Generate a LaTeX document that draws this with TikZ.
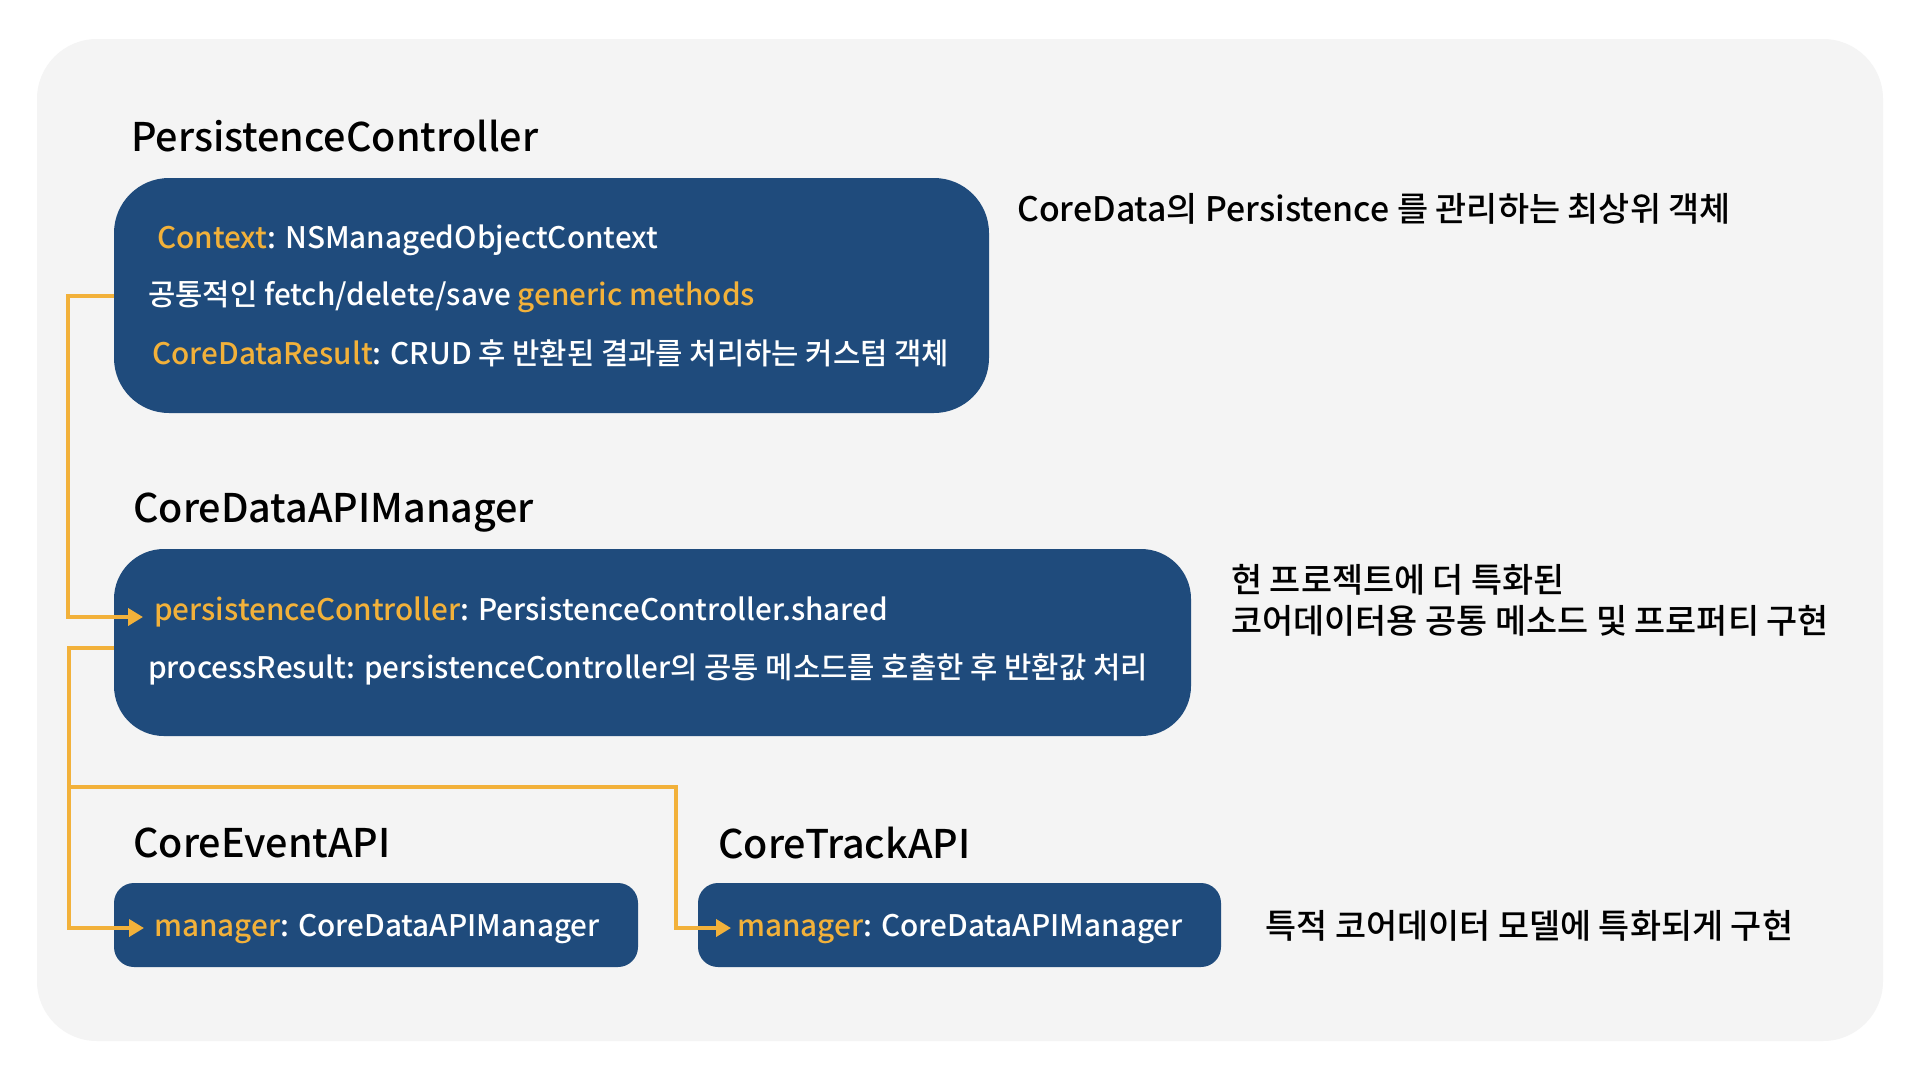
\documentclass[tikz,border=0pt]{standalone}
\usepackage{fontspec}
\setmainfont{Noto Sans CJK KR}[UprightFont={* Medium}]
\usetikzlibrary{arrows.meta}
\definecolor{bgc}{HTML}{F4F4F4}
\definecolor{boxc}{HTML}{1F4B7C}
\definecolor{orc}{HTML}{F2B13A}
\begin{document}
\begin{tikzpicture}[x=1pt,y=-1pt,
  panel/.style={fill=boxc, draw=none, rounded corners=#1, inner sep=0pt},
  title/.style={anchor=west, font=\fontsize{39.5}{44}\selectfont, text=black, inner sep=0pt},
  boxtext/.style={anchor=west, font=\fontsize{29.7}{34}\selectfont, text=white, inner sep=0pt},
  note/.style={anchor=west, font=\fontsize{33.8}{41}\selectfont, text=black, inner sep=0pt, align=left},
  conn/.style={draw=orc, line width=4pt, line join=miter},
  arr/.style={conn, -{Triangle[length=15pt,width=17pt]}}
]
\useasboundingbox (0,0) rectangle (1920,1080);
\fill[white] (0,0) rectangle (1920,1080);
\fill[bgc, rounded corners=60pt] (37,39) rectangle (1883,1041);

% Titles
\node[title] (t1) at (131,136) {PersistenceController};
\node[title] (t2) at (133,513) {CoreDataAPIManager};
\node[title] (t3) at (133,843) {CoreEventAPI};
\node[title] (t4) at (718,843) {CoreTrackAPI};

% Boxes
\node[panel=55pt, minimum width=875pt, minimum height=235pt] (b1) at (551.5,295.5) {};
\node[panel=50pt, minimum width=1077pt, minimum height=187pt] (b2) at (652.5,642.5) {};
\node[panel=20pt, minimum width=524pt, minimum height=84pt] (b3) at (376,925) {};
\node[panel=20pt, minimum width=523pt, minimum height=84pt] (b4) at (959.5,925) {};

% Box texts
\node[boxtext] (l11) at (157,240) {\textcolor{orc}{Context}: NSManagedObjectContext};
\node[boxtext] (l12) at (148,297) {공통적인 fetch/delete/save \textcolor{orc}{generic methods}};
\node[boxtext] (l13) at (152,353) {\textcolor{orc}{CoreDataResult}: CRUD 후 반환된 결과를 처리하는 커스텀 객체};
\node[boxtext] (l21) at (154,612) {\textcolor{orc}{persistenceController}: PersistenceController.shared};
\node[boxtext] (l22) at (148,669) {processResult: persistenceController의 공통 메소드를 호출한 후 반환값 처리};
\node[boxtext] (l31) at (154,929) {\textcolor{orc}{manager}: CoreDataAPIManager};
\node[boxtext] (l41) at (737,929) {\textcolor{orc}{manager}: CoreDataAPIManager};

% Notes
\node[note] (n1) at (1017,209) {CoreData의 Persistence 를 관리하는 최상위 객체};
\node[note] (n2) at (1231,600) {현 프로젝트에 더 특화된\\코어데이터용 공통 메소드 및 프로퍼티 구현};
\node[note] (n3) at (1265,926) {특적 코어데이터 모델에 특화되게 구현};

% Connectors
\coordinate (a1) at (143,617);
\coordinate (a2) at (144,928);
\coordinate (a3) at (731,928);
\coordinate (j1) at (68,296);
\coordinate (j2) at (69,648);
\coordinate (j3) at (69,787);
\coordinate (k3) at (676,787);

\draw[arr] (b1.west |- j1) -- (j1) |- (a1);
\draw[arr] (b2.west |- j2) -- (j2) |- (a2);
\draw[arr] (j3) -- (k3) |- (a3);
\end{tikzpicture}
\end{document}
